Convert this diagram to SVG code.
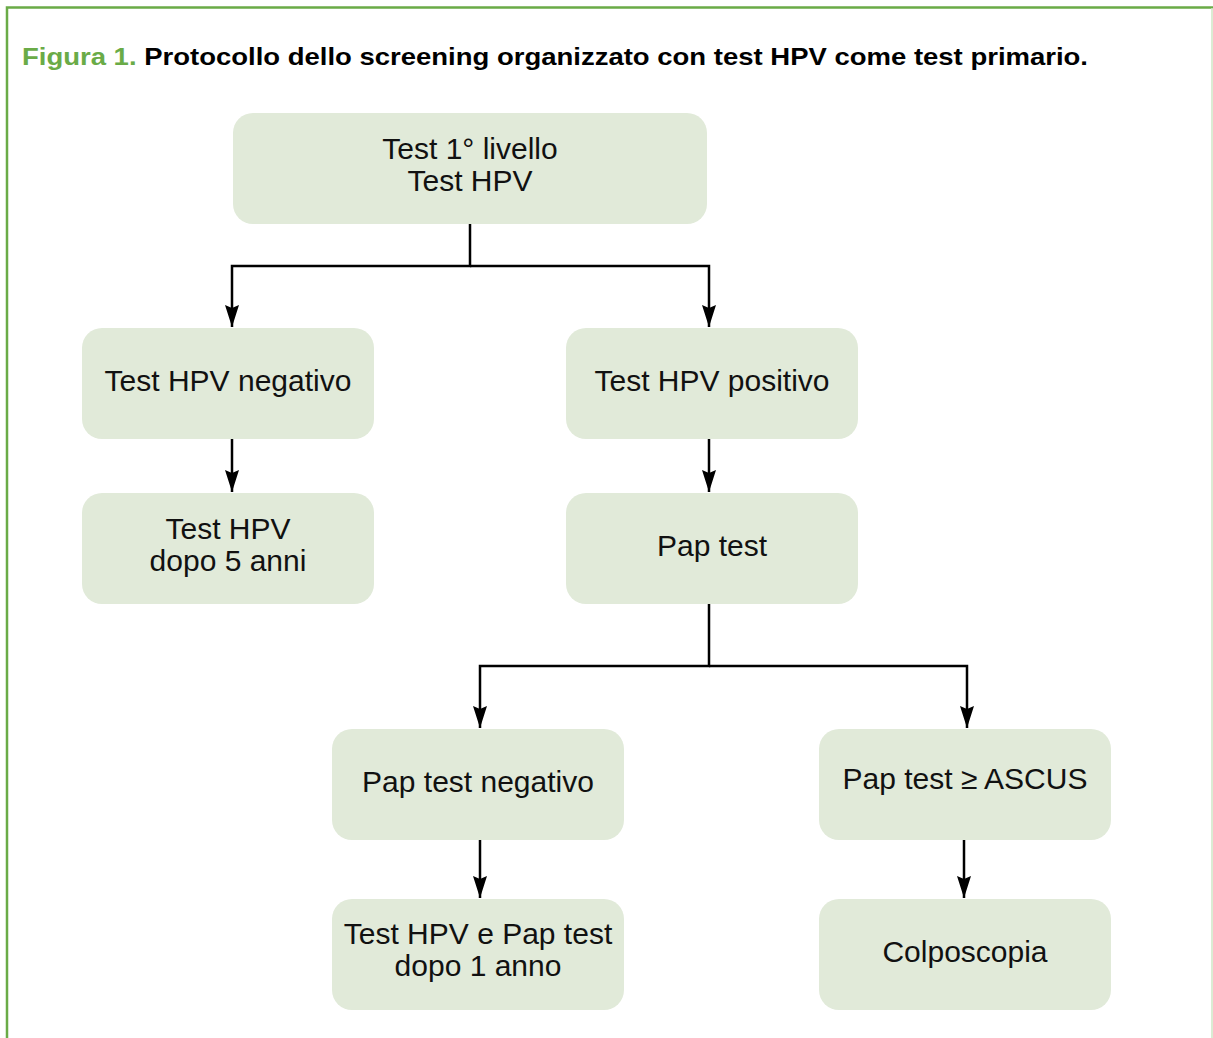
<svg xmlns="http://www.w3.org/2000/svg" width="1213" height="1038" viewBox="0 0 1213 1038">
<style>
  .node rect { fill: #e1ead9; }
  .node text { font-family: "Liberation Sans", Arial, sans-serif; font-size: 30px; fill: #111; text-anchor: middle; }
  .conn path { fill: none; stroke: #000; stroke-width: 2.5; }
  .title { font-family: "Liberation Sans", Arial, sans-serif; font-size: 24px; font-weight: bold; }
</style>
<defs>
  <marker id="arr" markerUnits="userSpaceOnUse" markerWidth="26" markerHeight="18" viewBox="-24 -9 26 18" refX="0" refY="0" orient="auto">
    <path d="M0,0 L-22,-7 L-19,0 L-22,7 Z" fill="#000"/>
  </marker>
</defs>
<rect x="0" y="0" width="1213" height="1038" fill="#fff"/>
<path d="M7,1038 V7.5 H1213" fill="none" stroke="#6aab47" stroke-width="2.5"/>
<line x1="1212" y1="8" x2="1212" y2="1038" stroke="#cfe4c4" stroke-width="1.5"/>
<text class="title" x="22" y="65" textLength="1066" lengthAdjust="spacingAndGlyphs"><tspan fill="#6aab47">Figura 1.</tspan> <tspan fill="#000">Protocollo dello screening organizzato con test HPV come test primario.</tspan></text>

<g id="connectors" class="conn">
  <path d="M470,224 V266 H232 V327" marker-end="url(#arr)"/>
  <path d="M470,266 H709 V327" marker-end="url(#arr)"/>
  <path d="M232,439 V492" marker-end="url(#arr)"/>
  <path d="M709,439 V492" marker-end="url(#arr)"/>
  <path d="M709,604 V666 H480 V728" marker-end="url(#arr)"/>
  <path d="M709,666 H967 V728" marker-end="url(#arr)"/>
  <path d="M480,840 V898" marker-end="url(#arr)"/>
  <path d="M964,840 V898" marker-end="url(#arr)"/>
</g>

<g id="n-test1" class="node">
  <rect x="233" y="113" width="474" height="111" rx="20"/>
  <text x="470" y="159">Test 1° livello</text>
  <text x="470" y="191">Test HPV</text>
</g>
<g id="n-hpvneg" class="node">
  <rect x="82" y="328" width="292" height="111" rx="20"/>
  <text x="228" y="391">Test HPV negativo</text>
</g>
<g id="n-hpvpos" class="node">
  <rect x="566" y="328" width="292" height="111" rx="20"/>
  <text x="712" y="391">Test HPV positivo</text>
</g>
<g id="n-hpv5" class="node">
  <rect x="82" y="493" width="292" height="111" rx="20"/>
  <text x="228" y="539">Test HPV</text>
  <text x="228" y="571">dopo 5 anni</text>
</g>
<g id="n-pap" class="node">
  <rect x="566" y="493" width="292" height="111" rx="20"/>
  <text x="712" y="556">Pap test</text>
</g>
<g id="n-papneg" class="node">
  <rect x="332" y="729" width="292" height="111" rx="20"/>
  <text x="478" y="792">Pap test negativo</text>
</g>
<g id="n-ascus" class="node">
  <rect x="819" y="729" width="292" height="111" rx="20"/>
  <text x="965" y="789">Pap test ≥ ASCUS</text>
</g>
<g id="n-hpvpap1" class="node">
  <rect x="332" y="899" width="292" height="111" rx="20"/>
  <text x="478" y="944">Test HPV e Pap test</text>
  <text x="478" y="976">dopo 1 anno</text>
</g>
<g id="n-colpo" class="node">
  <rect x="819" y="899" width="292" height="111" rx="20"/>
  <text x="965" y="962">Colposcopia</text>
</g>
</svg>
